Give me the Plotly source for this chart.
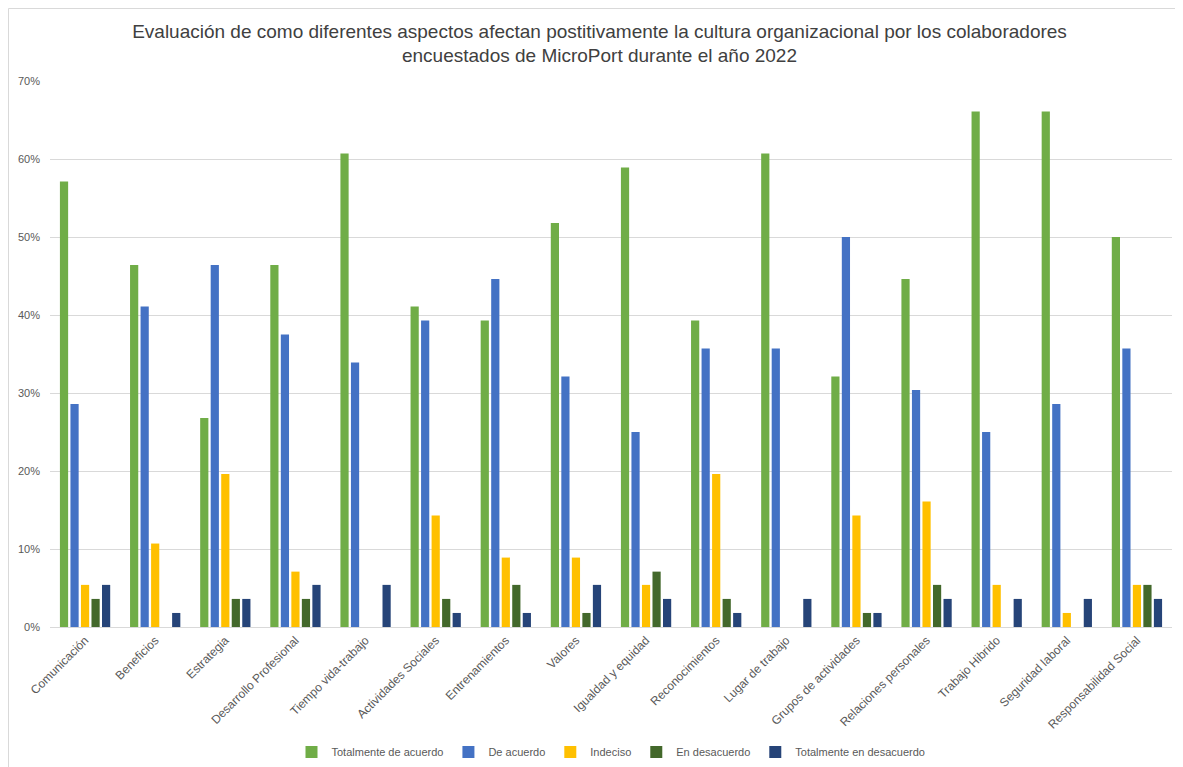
import plotly.graph_objects as go

categories = ["Comunicación", "Beneficios", "Estrategia", "Desarrollo Profesional",
              "Tiempo vida-trabajo", "Actividades Sociales", "Entrenamientos", "Valores",
              "Igualdad y equidad", "Reconocimientos", "Lugar de trabajo",
              "Grupos de actividades", "Relaciones personales", "Trabajo Hibrido",
              "Seguridad laboral", "Responsabilidad Social"]

totalmente_de_acuerdo = [57.1, 46.4, 26.8, 46.4, 60.7, 41.1, 39.3, 51.8, 58.9, 39.3, 60.7, 32.1, 44.6, 66.1, 66.1, 50.0]
de_acuerdo = [28.6, 41.1, 46.4, 37.5, 33.9, 39.3, 44.6, 32.1, 25.0, 35.7, 35.7, 50.0, 30.4, 25.0, 28.6, 35.7]
indeciso = [5.4, 10.7, 19.6, 7.1, 0, 14.3, 8.9, 8.9, 5.4, 19.6, 0, 14.3, 16.1, 5.4, 1.8, 5.4]
en_desacuerdo = [3.6, 0, 3.6, 3.6, 0, 3.6, 5.4, 1.8, 7.1, 3.6, 0, 1.8, 5.4, 0, 0, 5.4]
totalmente_en_desacuerdo = [5.4, 1.8, 3.6, 5.4, 5.4, 1.8, 1.8, 5.4, 3.6, 1.8, 3.6, 1.8, 3.6, 3.6, 3.6, 3.6]

series_names = ["Totalmente de acuerdo", "De acuerdo", "Indeciso", "En desacuerdo",
                "Totalmente en desacuerdo"]
series_values = [totalmente_de_acuerdo, de_acuerdo, indeciso, en_desacuerdo,
                 totalmente_en_desacuerdo]
colors = ["#70AD47", "#4472C4", "#FFC000", "#43682B", "#264478"]

y_ticks = [0, 10, 20, 30, 40, 50, 60, 70]

W, H = 1183, 767
ML, MR, MT, MB = 42, 19, 73, 148
PW, PH = W - ML - MR, H - MT - MB

fig = go.Figure()
for name, vals, col in zip(series_names, series_values, colors):
    fig.add_trace(go.Bar(x=categories, y=vals, name=name, marker_color=col,
                         marker_line_width=0))

font_family = "Liberation Sans, Arial, sans-serif"
fig.update_layout(
    width=W, height=H,
    paper_bgcolor="white", plot_bgcolor="white",
    margin=dict(l=ML, r=MR, t=MT, b=MB, autoexpand=False),
    barmode="group", bargap=0.25, bargroupgap=0.22,
    title=dict(
        text="Evaluación de como diferentes aspectos afectan postitivamente la cultura organizacional por los colaboradores<br>encuestados de MicroPort durante el año 2022",
        x=0.5, xanchor="center", y=0.9615, yanchor="middle",
        font=dict(family=font_family, size=19, color="#404040")),
    font=dict(family=font_family, color="#595959"),
    legend=dict(orientation="h", x=0.5, xanchor="center", y=-0.229, yanchor="middle",
                font=dict(size=11, color="#595959"), itemwidth=30,
                traceorder="normal"),
    xaxis=dict(tickangle=-45, tickfont=dict(size=12, color="#595959"),
               showgrid=False, showline=False, ticks="", automargin=False,
               ticklabelstandoff=3),
    yaxis=dict(range=[0, 70], tickvals=y_ticks, ticktext=[f"{v}%" for v in y_ticks],
               tickfont=dict(size=11, color="#595959"), showgrid=True,
               gridcolor="#D9D9D9", gridwidth=1, zeroline=True, zerolinecolor="#D9D9D9",
               zerolinewidth=1, showline=False, ticks="", automargin=False,
               ticklabelstandoff=9),
    shapes=[dict(type="rect", xref="paper", yref="paper",
                 x0=(0.5 - ML) / PW, x1=(1170 - ML) / PW,
                 y0=-(MB + 5) / PH, y1=1 + (MT - 0.5) / PH,
                 line=dict(color="#D9D9D9", width=1))],
)

fig.write_html("out.html")
